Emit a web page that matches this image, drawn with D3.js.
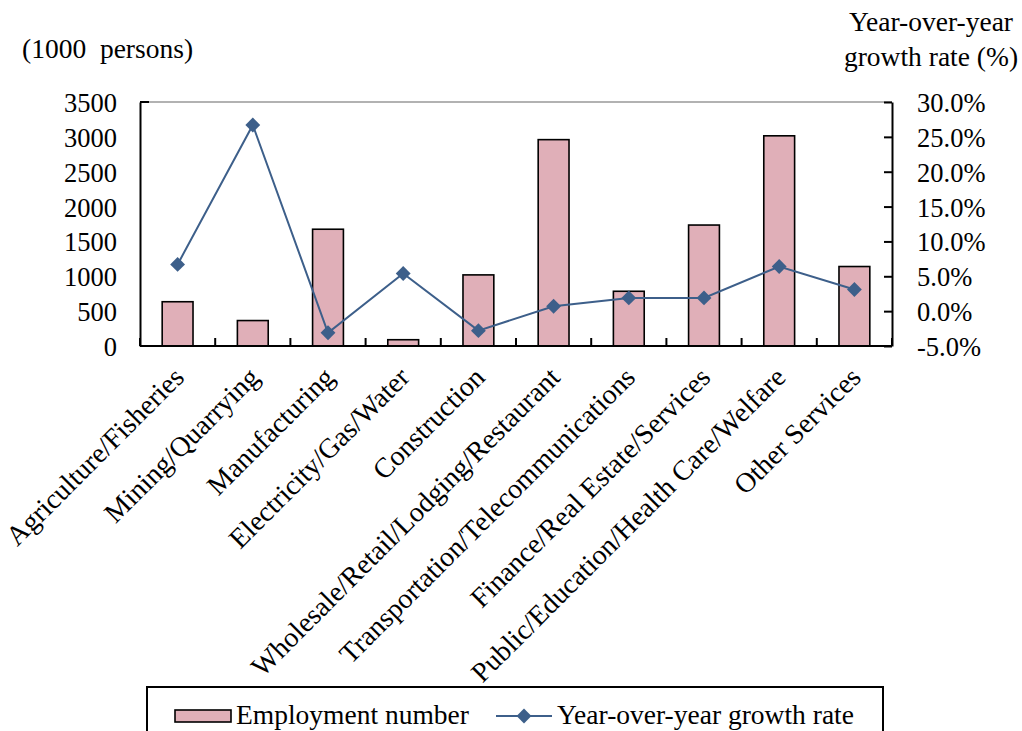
<!DOCTYPE html>
<html><head><meta charset="utf-8">
<script src="https://cdn.jsdelivr.net/npm/d3@7/dist/d3.min.js"></script>
<style>body{margin:0;background:#fff}svg{display:block}svg text{font-family:"Liberation Serif","Times New Roman",serif !important;fill:#000}</style>
</head><body><svg id="c" width="1022" height="731"></svg>
<script>
const categories = ["Agriculture/Fisheries","Mining/Quarrying","Manufacturing","Electricity/Gas/Water","Construction","Wholesale/Retail/Lodging/Restaurant","Transportation/Telecommunications","Finance/Real Estate/Services","Public/Education/Health Care/Welfare","Other Services"];
const employment = [635, 365, 1675, 90, 1020, 2960, 785, 1735, 3015, 1140];
const growth = [6.7, 26.7, -3.1, 5.4, -2.8, 0.7, 1.9, 1.9, 6.4, 3.1];
const leftTicks = [0, 500, 1000, 1500, 2000, 2500, 3000, 3500];
const rightTicks = [-5, 0, 5, 10, 15, 20, 25, 30];

const svg = d3.select("#c");
const L = 140, R = 892, T = 102, B = 346;
const FS = 26.5, FT = 27.5, FC = 28;
const x = d3.scaleBand().domain(categories).range([L, R]);
const yL = d3.scaleLinear().domain([0, 3500]).range([B, T]);
const yR = d3.scaleLinear().domain([-5, 30]).range([B, T]);
const barColor = "#e0afb8", lineColor = "#3d5f8a";

// top border
svg.append("line").attr("x1", L).attr("x2", R).attr("y1", T).attr("y2", T).attr("stroke", "#999").attr("stroke-width", 1.5);

// bars
svg.selectAll("rect.bar").data(employment).enter().append("rect")
  .attr("x", (d, i) => x(categories[i]) + x.bandwidth() * 0.295)
  .attr("width", x.bandwidth() * 0.41)
  .attr("y", d => yL(d)).attr("height", d => B - yL(d))
  .attr("fill", barColor).attr("stroke", "#000").attr("stroke-width", 1.6);

// left axis
const gl = svg.append("g").attr("transform", `translate(${L},0)`)
  .call(d3.axisLeft(yL).tickValues(leftTicks).tickSize(0).tickPadding(23).tickFormat(d3.format("d")));
gl.select(".domain").attr("stroke", "#000").attr("stroke-width", 2);
gl.selectAll("text").style("font-size", FS + "px").attr("dy", "0.36em");
svg.append("line").attr("x1", L).attr("x2", L + 9).attr("y1", T).attr("y2", T).attr("stroke", "#000").attr("stroke-width", 2);

// right axis
const gr = svg.append("g").attr("transform", `translate(${R},0)`)
  .call(d3.axisRight(yR).tickValues(rightTicks).tickSizeInner(-8).tickSizeOuter(0).tickPadding(25).tickFormat(d => d.toFixed(1) + "%"));
gr.select(".domain").attr("stroke", "#000").attr("stroke-width", 2);
gr.selectAll(".tick line").attr("stroke", "#000").attr("stroke-width", 2);
gr.selectAll("text").style("font-size", FS + "px").attr("dy", "0.36em");

// bottom axis
const boundaries = categories.map(c => x(c)).concat([R]);
svg.selectAll("line.xt").data(boundaries).enter().append("line")
  .attr("x1", d => d).attr("x2", d => d).attr("y1", B).attr("y2", B - 8)
  .attr("stroke", "#000").attr("stroke-width", 2);
svg.append("line").attr("x1", L).attr("x2", R).attr("y1", B).attr("y2", B).attr("stroke", "#000").attr("stroke-width", 2);

// category labels
svg.selectAll("text.cat").data(categories).enter().append("text")
  .attr("transform", d => `translate(${x(d) + x.bandwidth() / 2 + 8},${B + 33}) rotate(-45)`)
  .attr("text-anchor", "end").style("font-size", FC + "px").text(d => d);

// line
const line = d3.line().x((d, i) => x(categories[i]) + x.bandwidth() / 2).y(d => yR(d));
svg.append("path").datum(growth).attr("d", line).attr("fill", "none").attr("stroke", lineColor).attr("stroke-width", 2);
svg.selectAll("path.pt").data(growth).enter().append("path")
  .attr("transform", (d, i) => `translate(${x(categories[i]) + x.bandwidth() / 2},${yR(d)}) rotate(45)`)
  .attr("d", d3.symbol().type(d3.symbolSquare).size(110)).attr("fill", lineColor);

// axis titles
svg.append("text").attr("x", 22).attr("y", 58).attr("xml:space", "preserve").style("white-space", "pre").style("font-size", FT + "px").text("(1000  persons)");
svg.append("text").attr("x", 931).attr("y", 31).attr("text-anchor", "middle").style("font-size", FT + "px").text("Year-over-year");
svg.append("text").attr("x", 931).attr("y", 66).attr("text-anchor", "middle").style("font-size", FT + "px").text("growth rate (%)");

// legend
svg.append("rect").attr("x", 147).attr("y", 687).attr("width", 736).attr("height", 60).attr("fill", "none").attr("stroke", "#000").attr("stroke-width", 2);
svg.append("rect").attr("x", 175).attr("y", 710).attr("width", 56).attr("height", 12).attr("fill", barColor).attr("stroke", "#000").attr("stroke-width", 1.6);
svg.append("text").attr("x", 236).attr("y", 724).style("font-size", FT + "px").text("Employment number");
svg.append("line").attr("x1", 496).attr("x2", 552).attr("y1", 716).attr("y2", 716).attr("stroke", lineColor).attr("stroke-width", 2);
svg.append("path").attr("transform", "translate(524,716) rotate(45)").attr("d", d3.symbol().type(d3.symbolSquare).size(110)).attr("fill", lineColor);
svg.append("text").attr("x", 557).attr("y", 724).style("font-size", FT + "px").text("Year-over-year growth rate");
</script></body></html>
